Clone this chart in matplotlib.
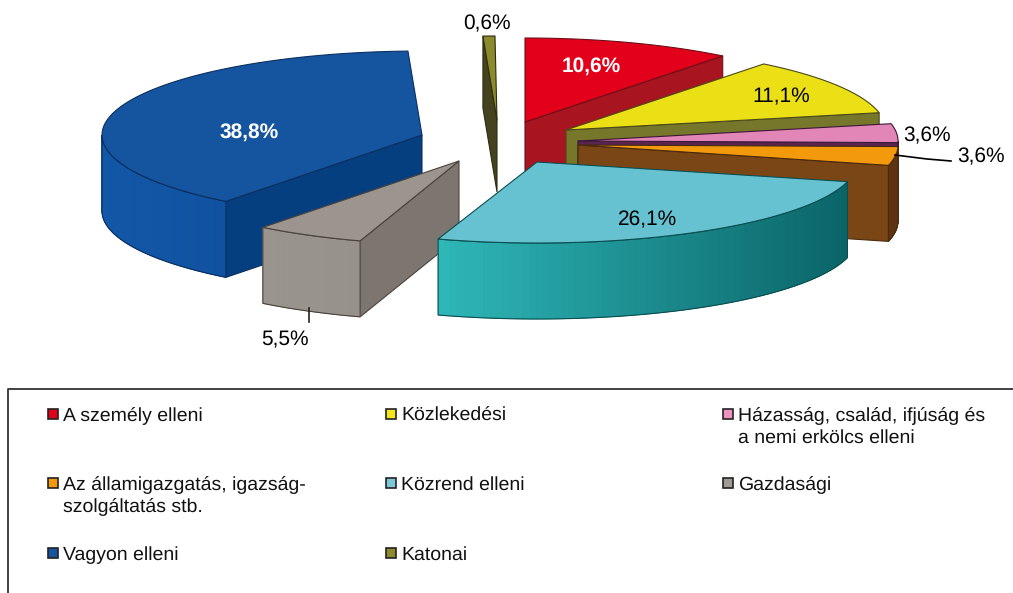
import numpy as np
import matplotlib
matplotlib.use("Agg")
import matplotlib.pyplot as plt
from matplotlib.patches import Polygon, Rectangle
from matplotlib.colors import to_rgb

plt.rcParams["font.family"] = ["Liberation Sans", "DejaVu Sans"]
plt.rcParams["text.hinting"] = "no_hinting"

# share of each category, clockwise from 12 o'clock
categories = ["A személy elleni", "Közlekedési", "Házasság, család, ifjúság és\na nemi erkölcs elleni",
              "Az államigazgatás, igazság-\nszolgáltatás stb.", "Közrend elleni", "Gazdasági",
              "Vagyon elleni", "Katonai"]
values = [10.6, 11.1, 3.6, 3.6, 26.1, 5.5, 38.8, 0.6]

# apex of each exploded slice, in pixels
apex = [(525, 122), (566, 130), (578, 141), (578, 145), (537, 162), (459, 161), (422, 135), (497, 120)]
radius_y = [84, 84, 84, 84, 81, 84, 84, 84]
depth = [76, 76, 76, 76, 76, 76, 76, 72]
top_col = ["#e2001a", "#ebdf16", "#e286b8", "#f29a0c", "#66c2d0", "#9c948e", "#15559f", "#8c8a2c"]
cut_col = ["#a8141f", "#77772c", "#5a2350", "#7b4616", "#0c6c6c", "#7d756f", "#063f80", "#45431f"]
outer_l = ["#a8141f", "#77772c", "#5a2350", "#5e3410", "#2fb7b8", "#9b958f", "#1358a8", "#45431f"]
outer_r = ["#a8141f", "#77772c", "#5a2350", "#5e3410", "#0a6468", "#97918b", "#1052a0", "#45431f"]
edge_col = ["#6e1018", "#4a4a18", "#3c1838", "#4a2a0c", "#0a4e50", "#4c423c", "#0a2f60", "#2c2c10"]
legend_col = ["#e2001a", "#f5e61e", "#ee92c2", "#f29a0c", "#7cc8d6", "#a09a94", "#15559f", "#8c8a2c"]
draw_order = [0, 7, 1, 2, 3, 6, 5, 4]

label_pos = [(591, 66), (781, 97), (927, 136), (981, 157), (648, 220), (285, 340), (249, 132), (487, 24)]
label_col = ["white", "black", "black", "black", "black", "black", "white", "black"]
label_wt = ["bold", "normal", "normal", "normal", "normal", "normal", "bold", "normal"]

RX = 320


def pt(i, deg):
    t = np.radians(deg)
    return apex[i][0] + RX * np.sin(t), apex[i][1] - radius_y[i] * np.cos(t)


fig = plt.figure(figsize=(10.13, 5.93), dpi=100)
ax = fig.add_axes([0, 0, 1, 1])
ax.set_xlim(0, 1013)
ax.set_ylim(593, 0)
ax.axis("off")

bounds = np.concatenate([[0], np.cumsum(values)]) * 3.6

for i in draw_order:
    a0, a1 = bounds[i], bounds[i + 1]
    ec = edge_col[i]
    d = depth[i]
    # radial faces that look at the viewer
    for a in (a0, a1):
        show = (a == a0 and 180 < a < 360) or (a == a1 and 0 < a < 180)
        if show:
            x, y = pt(i, a)
            ax.add_patch(Polygon([apex[i], (x, y), (x, y + d), (apex[i][0], apex[i][1] + d)],
                                 fc=cut_col[i], ec=ec, lw=0.8))
    # outer rim, only the front half, shaded left to right
    s0, s1 = max(a0, 90), min(a1, 270)
    if s1 > s0:
        ang = np.linspace(s0, s1, 80)
        c_l, c_r = np.array(to_rgb(outer_l[i])), np.array(to_rgb(outer_r[i]))
        xy = np.array([pt(i, a) for a in ang])
        rim = np.vstack([xy, (xy + (0, d))[::-1]])
        # opaque backing so nothing shows through the seams
        ax.add_patch(Polygon(rim, fc=(c_l + c_r) / 2, ec="none"))
        xmin, xmax = xy[:, 0].min(), xy[:, 0].max()
        for k in range(len(ang) - 1):
            f = (0.5 * (xy[k, 0] + xy[k + 1, 0]) - xmin) / max(xmax - xmin, 1)
            c = c_l + (c_r - c_l) * f
            ax.add_patch(Polygon([xy[k], xy[k + 1], xy[k + 1] + (0, d), xy[k] + (0, d)],
                                 fc=c, ec=c, lw=0.5))
        ax.add_patch(Polygon(rim, fill=False, ec=ec, lw=0.8))
    # top face
    ang = np.linspace(a0, a1, 80)
    arc = [pt(i, a) for a in ang]
    ax.add_patch(Polygon([apex[i]] + arc, fc=top_col[i], ec=ec, lw=0.8, joinstyle="round"))

for i, v in enumerate(values):
    ax.text(label_pos[i][0], label_pos[i][1], f"{v:.1f}".replace(".", ",") + "%",
            ha="center", va="center", fontsize=15, color=label_col[i], fontweight=label_wt[i], zorder=20)

# leader lines
ax.plot([895, 927, 951], [155, 159, 161], color="black", lw=1.2, zorder=20)
ax.plot([309, 309], [308, 322], color="#222222", lw=1.2, zorder=20)

# legend box, runs off the right and bottom of the picture
ax.plot([1013, 7.5, 7.5], [388.5, 388.5, 593], color="#333333", lw=1.3)

leg_x = [48, 386, 723]
leg_y = [414, 483, 553]
for i, name in enumerate(categories):
    col, row = i % 3, i // 3
    ax.add_patch(Rectangle((leg_x[col], leg_y[row] - 5), 10, 10, fc=legend_col[i], ec="#222222", lw=1.2))
    for k, line in enumerate(name.split("\n")):
        ax.text(leg_x[col] + 15, leg_y[row] + 7 + 22 * k, line, ha="left", va="baseline", fontsize=14,
                color="#111111")

fig.savefig("out.png", dpi=100)
